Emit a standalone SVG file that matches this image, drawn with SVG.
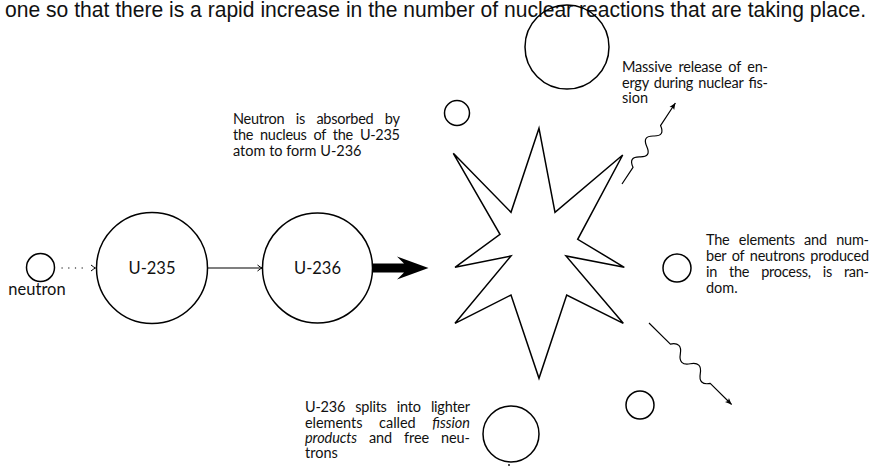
<svg xmlns="http://www.w3.org/2000/svg" width="872" height="467" viewBox="0 0 872 467">
<style>
  .bg{fill:#fff}
  .c{fill:none;stroke:#000;stroke-width:1.5}
  .t{font-family:Lato,"Open Sans","Liberation Sans",sans-serif;font-size:14.5px;fill:#111}
  .lbl{font-family:Lato,"Open Sans","Liberation Sans",sans-serif;font-size:16.5px;fill:#111;text-anchor:middle}
  .top{font-family:"Liberation Sans",Arial,sans-serif;font-size:22px;fill:#111}
  .ln{fill:none;stroke:#000;stroke-width:1.2}
  .wave{fill:none;stroke:#000;stroke-width:1.2;stroke-linejoin:round}
</style>
<defs>
  <marker id="tip" markerUnits="userSpaceOnUse" markerWidth="10" markerHeight="10" refX="0" refY="0" viewBox="-6 -5 7 10" orient="auto" overflow="visible">
    <path d="M-4.5,-3 Q-1.5,-0.6 0,0 Q-1.5,0.6 -4.5,3" fill="none" stroke="#000" stroke-width="1"/>
  </marker>
  <marker id="fill" markerUnits="userSpaceOnUse" markerWidth="10" markerHeight="10" refX="0" refY="0" viewBox="-8 -5 9 10" orient="auto" overflow="visible">
    <path d="M-6.5,-2.8 L0,0 L-6.5,2.8 L-5,0 Z" fill="#000"/>
  </marker>
</defs>
<rect class="bg" x="0" y="0" width="872" height="467"/>

<text class="top" x="5" y="16.7" textLength="861" lengthAdjust="spacingAndGlyphs">one so that there is a rapid increase in the number of nuclear reactions that are taking place.</text>

<g id="neutron">
  <circle class="c" cx="40.5" cy="267.5" r="14"/>
  <text class="lbl" x="37" y="295" font-size="15.5">neutron</text>
</g>
<g id="u235">
  <circle class="c" cx="152" cy="268" r="55.5"/>
  <text class="lbl" x="152" y="274">U-235</text>
</g>
<g id="u236">
  <circle class="c" cx="317.5" cy="268" r="55"/>
  <text class="lbl" x="317.5" y="274">U-236</text>
</g>
<g id="explosion">
  <polygon class="c" points="539,128.3 555,212.3 622.7,155 577.7,239.3 624.3,267.3 566,256 623.3,323.3 566.7,295 539,378.3 511,295 455,323.3 511,256 455,267.3 500,234.3 453.3,153.3 511,212.3"/>
</g>
<g id="fission-products">
  <circle class="c" cx="567" cy="47" r="42"/>
  <circle class="c" cx="457" cy="113" r="12.5"/>
  <circle class="c" cx="677" cy="268" r="14"/>
  <circle class="c" cx="640" cy="405" r="14"/>
  <circle class="c" cx="511" cy="434" r="28"/>
  <circle cx="509" cy="465" r="0.9" fill="#000"/>
</g>

<g id="connectors">
  <line class="ln" x1="61.5" y1="268" x2="95.5" y2="268" stroke-dasharray="1.2 5.5 1.2 5.5 1.2 5.5 1.2 30" marker-end="url(#tip)"/>
  <line class="ln" x1="207.5" y1="268" x2="262" y2="268" marker-end="url(#tip)"/>
  <path d="M373,263.5 L404,263.5 L397,256.5 L428.5,268 L397,279.5 L404,272.5 L373,272.5 Z" fill="#000"/>
  <g transform="translate(622,184) rotate(-56.6)">
    <path class="wave" d="M0,0 L20,0 Q26.25,-10 32.5,0 T45,0 T57.5,0 T70,0 L97,0" marker-end="url(#fill)"/>
  </g>
  <g transform="translate(649,323) rotate(44.6)">
    <path class="wave" d="M0,0 L30,0 Q37,-10 44,0 T58,0 T72,0 T86,0 L116,0" marker-end="url(#fill)"/>
  </g>
</g>

<g id="note-absorb">
  <text class="t" x="233" y="124" word-spacing="7.9" textLength="167">Neutron is absorbed by</text>
  <text class="t" x="233" y="140" word-spacing="3.6" textLength="167">the nucleus of the U-235</text>
  <text class="t" x="233" y="156">atom to form U-236</text>
</g>
<g id="note-energy">
  <text class="t" x="622" y="72" word-spacing="3" textLength="146">Massive release of en-</text>
  <text class="t" x="622" y="88" word-spacing="1.8" textLength="146">ergy during nuclear fis-</text>
  <text class="t" x="622" y="103">sion</text>
</g>
<g id="note-random">
  <text class="t" x="706" y="245" word-spacing="5.8" textLength="163">The elements and num-</text>
  <text class="t" x="706" y="261" word-spacing="2.1" textLength="163">ber of neutrons produced</text>
  <text class="t" x="706" y="277" word-spacing="8.6" textLength="163">in the process, is ran-</text>
  <text class="t" x="706" y="293">dom.</text>
</g>
<g id="note-split">
  <text class="t" x="305" y="412" word-spacing="6.7" textLength="165">U-236 splits into lighter</text>
  <text class="t" x="305" y="428" word-spacing="13" textLength="165">elements called <tspan font-style="italic">fission</tspan></text>
  <text class="t" x="305" y="443" word-spacing="8.4" textLength="165"><tspan font-style="italic">products</tspan> and free neu-</text>
  <text class="t" x="305" y="458">trons</text>
</g>
</svg>
